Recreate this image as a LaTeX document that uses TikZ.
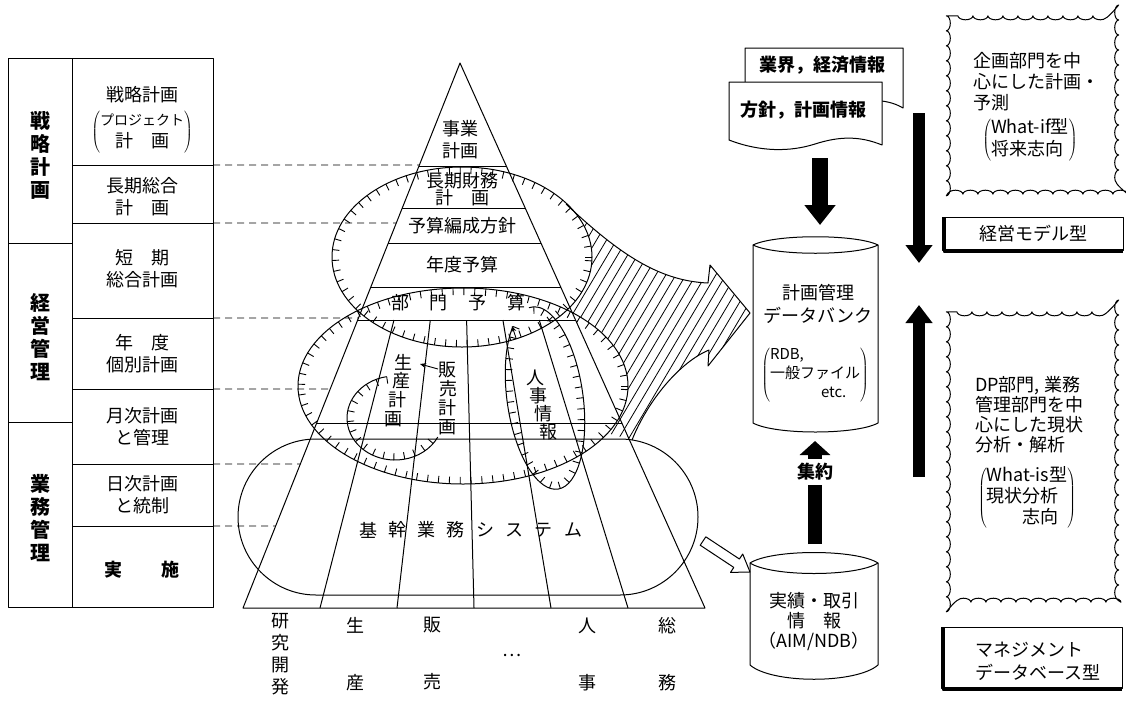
\documentclass[tikz,border=0pt]{standalone}
\usepackage{fontspec}
\setmainfont{Noto Sans CJK JP}
\usetikzlibrary{calc,decorations.markings,decorations.pathmorphing,arrows.meta}
\begin{document}
\begin{tikzpicture}[x=1pt,y=-1pt,line join=round,
  every node/.style={inner sep=0pt,font=\fontsize{18}{22}\selectfont,align=center},
  bld/.style={font=\fontsize{18}{22}\selectfont\bfseries},
  vbig/.style={font=\fontsize{20}{23}\selectfont\bfseries},
  ln/.style={line width=1pt},
  ticked/.style={postaction={decorate,decoration={markings,
      mark=between positions 0 and 0.999 step 11pt with {\draw[line width=0.9pt] (0pt,0pt) -- (0pt,7pt);}}}},
  guide/.style={line width=0.9pt,dash pattern=on 7pt off 5pt},
  cloudedge/.style={line width=1pt,decorate,decoration={bumps,segment length=30pt,amplitude=4pt}},
  smallarrow/.style={line width=0.9pt,-{Stealth[length=6pt,width=5pt]}},
]
\useasboundingbox (0,0) rectangle (1126,710);

% ---------- pyramid reference points
\coordinate (A) at (460,63);
\coordinate (BL) at (243,608);
\coordinate (BR) at (705,608);

% ---------- hatched big arrow
\begin{scope}
\clip (530,195) -- (566,204) .. controls (620,255) and (660,281) .. (708,283) -- (710,265) -- (750,313) -- (708,366) -- (709,350) .. controls (680,362) and (648,400) .. (632,440) -- (560,420) -- cycle;
\foreach \k in {0,...,27} \draw[line width=0.8pt] ({400+10*\k},470) -- ({590+10*\k},150);
\end{scope}
\fill[white] (462,257) ellipse[x radius=130,y radius=90];
\fill[white] (463,386) ellipse[x radius=165,y radius=98];
\draw[ln] (566,204) .. controls (620,255) and (660,281) .. (708,283) -- (710,265) -- (750,313) -- (708,366) -- (709,350) .. controls (680,362) and (648,400) .. (632,440);

% ---------- ellipses with ticks
\draw[ln,ticked] (592,257) arc[start angle=0,end angle=-360,x radius=130,y radius=90];
\draw[ln,ticked] (628,386) arc[start angle=0,end angle=-360,x radius=165,y radius=98];
\draw[ln,ticked] ($(395,418)+(260:48 and 42)$) arc[start angle=260,end angle=27,x radius=48,y radius=42];
\draw[ln,ticked,rotate around={8:(545,398)}] ($(545,398)+(235:38 and 92)$) arc[start angle=235,end angle=-95,x radius=38,y radius=92];
\draw[smallarrow] (516,338) -- (512,326);
\draw[smallarrow] (438,369) -- (420,364);

% ---------- stadium (基幹業務システム)
\draw[ln,rounded corners=78pt] (238,439) rectangle (698,595);

% ---------- pyramid
\draw[ln] (BL) -- (A) -- (BR) -- cycle;
\foreach \t in {0.1908,0.2661,0.3303,0.4128,0.4716,0.6606}
  \draw[ln] ($(A)!\t!(BL)$) -- ($(A)!\t!(BR)$);
\coordinate (Lt) at ($(A)!0.4716!(BL)$);
\coordinate (Rt) at ($(A)!0.4716!(BR)$);
\foreach \k in {1,...,5}
  \draw[ln] ($(Lt)!{\k/6}!(Rt)$) -- ($(BL)!{\k/6}!(BR)$);

% ---------- left table
\draw[ln] (8,58) rectangle (213,607);
\draw[ln] (72,58) -- (72,607);
\foreach \y in {165,223,318,389,464,526} \draw[ln] (72,\y) -- (213,\y);
\foreach \y in {243,422} \draw[ln] (8,\y) -- (72,\y);
\foreach \y/\t in {165/0.1872,223/0.2936,318/0.4679,389/0.5982,464/0.7358,526/0.8495}
  \draw[guide] (213,\y) -- ($(A)!\t!(BL)$);

\node[vbig] (g1) at (40,155) {戦\\略\\計\\画};
\node[vbig] (g2) at (40,337) {経\\営\\管\\理};
\node[vbig] (g3) at (40,518) {業\\務\\管\\理};

\node (s1) at (142,95) {戦略計画};
\node (s1b) at (142,132) {$\left(\begin{tabular}{@{}c@{}}\fontsize{14}{17}\selectfont プロジェクト\\計\hspace{1em}画\end{tabular}\right)$};
\node (s2) at (142,197) {長期総合\\計\hspace{1em}画};
\node (s3) at (142,269) {短\hspace{1em}期\\総合計画};
\node (s4) at (142,354) {年\hspace{1em}度\\個別計画};
\node (s5) at (142,427) {月次計画\\と管理};
\node (s6) at (142,495) {日次計画\\と統制};
\node[bld] (s7) at (142,570) {実\hspace{2.2em}施};

% ---------- pyramid texts
\node (p1) at (460,140) {事業\\計画};
\node[font=\fontsize{18}{17}\selectfont] (p2) at (462,189) {長期財務\\計\hspace{1em}画};
\node (p3) at (462,226) {予算編成方針};
\node (p4) at (462,265) {年度予算};
\foreach \c/\x in {部/400,門/438,予/477,算/516} \node (bm\x) at (\x,303) {\c};
\foreach \c/\x/\y in {生/403/362,産/401/381,計/397/400,画/393/419} \node (sp\y) at (\x,\y) {\c};
\foreach \c/\x/\y in {販/447/370,売/448/389,計/447/408,画/447/427} \node (hb\y) at (\x,\y) {\c};
\foreach \c/\x/\y in {人/535/378,事/538/396,情/543/414,報/548/432} \node (jj\y) at (\x,\y) {\c};
\foreach \c [count=\i from 0] in {基,幹,業,務,シ,ス,テ,ム} \node (kk\i) at ({368+29.3*\i},530) {\c};

% ---------- bottom labels
\node (b1) at (280,654) {研\\究\\開\\発};
\node[font=\fontsize{18}{57}\selectfont] (b2) at (355,654) {生\\産};
\node[font=\fontsize{18}{57}\selectfont] (b3) at (432,654) {販\\売};
\node (b4) at (512,655) {…};
\node[font=\fontsize{18}{57}\selectfont] (b5) at (587,654) {人\\事};
\node[font=\fontsize{18}{57}\selectfont] (b6) at (667,654) {総\\務};

% ---------- documents
\draw[ln,fill=white] (745,48) -- (903,48) -- (903,108) .. controls (885,97) and (860,100) .. (840,104) -- (745,104) -- cycle;
\draw[ln,fill=white] (729,82) -- (882,82) -- (882,145) .. controls (860,136) and (840,136) .. (815,144) .. controls (790,152) and (760,152) .. (729,140) -- cycle;
\node[bld] (d1) at (822,65) {業界，経済情報};
\node[bld] (d2) at (803,110) {方針，計画情報};

% ---------- data bank cylinder
\draw[ln,fill=white] (753,245) .. controls (775,234) and (856,234) .. (878,245) -- (878,423) .. controls (856,435) and (775,435) .. (753,423) -- cycle;
\draw[ln] (753,245) .. controls (775,256) and (856,256) .. (878,245);
\node (bk1) at (818,293) {計画管理};
\node (bk2) at (818,315) {データバンク};
\node[font=\fontsize{15}{19}\selectfont] (bk3) at (815,375) {$\left(\begin{tabular}{@{}l@{}}RDB,\\一般ファイル\\\hspace*{3.4em}etc.\end{tabular}\right)$};

% ---------- AIM cylinder
\draw[ln,fill=white] (750,563) .. controls (772,549) and (856,549) .. (878,563) -- (878,665) .. controls (856,684) and (772,684) .. (750,665) -- cycle;
\draw[ln] (750,563) .. controls (772,577) and (856,577) .. (878,563);
\node[font=\fontsize{18}{20}\selectfont] (aim) at (814,622) {実績・取引\\情\hspace{1em}報\\（AIM/NDB）};

% ---------- arrows
\coordinate (d2s) at (820,158);
\coordinate (bkt) at (820,225);
\draw[line width=16pt,-{Triangle[width=30pt,length=20pt]}] (d2s) -- (bkt);
\coordinate (aimt) at (815,544);
\coordinate (bkb) at (815,441);
\draw[line width=14pt,-{Triangle[width=30pt,length=14pt]}] (aimt) -- (bkb);
\node[bld,fill=white,inner ysep=4pt] (sy) at (815,472) {集約};
\coordinate (rd1) at (919,113);
\coordinate (rd2) at (919,263);
\draw[line width=12pt,-{Triangle[width=26pt,length=18pt]}] (rd1) -- (rd2);
\coordinate (ru1) at (919,477);
\coordinate (ru2) at (919,305);
\draw[line width=12pt,-{Triangle[width=26pt,length=18pt]}] (ru1) -- (ru2);
\draw[ln,fill=white] (705.8,536.8) -- (739.4,559.0) -- (742.7,554.0) -- (750,572) -- (730.5,572.4) -- (733.8,567.4) -- (700.2,545.2) -- cycle;

% ---------- clouds
\node[minimum width=172pt,minimum height=178pt] (cl1) at (1032.5,105) {};
\draw[cloudedge] (cl1.north west) rectangle (cl1.south east);
\node[anchor=north west,align=left,font=\fontsize{18}{21}\selectfont] (cl1a) at (973,52) {企画部門を中\\心にした計画・\\予測};
\node[font=\fontsize{18}{21}\selectfont] (cl1b) at (1030,140) {$\left(\begin{tabular}{@{}l@{}}What-if型\\将来志向\end{tabular}\right)$};

\node[minimum width=172pt,minimum height=290pt] (cl2) at (1032.5,457) {};
\draw[cloudedge] (cl2.north west) rectangle (cl2.south east);
\node[anchor=north west,align=left,font=\fontsize{18}{20}\selectfont] (cl2a) at (975,376) {DP部門, 業務\\管理部門を中\\心にした現状\\分析・解析};
\node[font=\fontsize{18}{20}\selectfont] (cl2b) at (1027,498) {$\left(\begin{tabular}{@{}l@{}}What-is型\\現状分析\\\hspace*{2em}志向\end{tabular}\right)$};

% ---------- shadow boxes
\node[minimum width=180pt,minimum height=32pt] (m1) at (1033,234) {経営モデル型};
\draw[line width=0.8pt] (m1.north west) rectangle (m1.south east);
\draw[line width=3.5pt] ([xshift=1.5pt]m1.north west) -- ([xshift=1.5pt,yshift=-1pt]m1.south west) -- ([yshift=-1pt]m1.south east);

\node[minimum width=180pt,minimum height=60pt] (m2) at (1032,658) {};
\node[anchor=west,align=left,font=\fontsize{18}{23}\selectfont] (m2t) at (975,661) {マネジメント\\データベース型};
\draw[line width=0.8pt] (m2.north west) rectangle (m2.south east);
\draw[line width=3.5pt] ([xshift=1.5pt]m2.north west) -- ([xshift=1.5pt,yshift=-1pt]m2.south west) -- ([yshift=-1pt]m2.south east);
\end{tikzpicture}
\end{document}
